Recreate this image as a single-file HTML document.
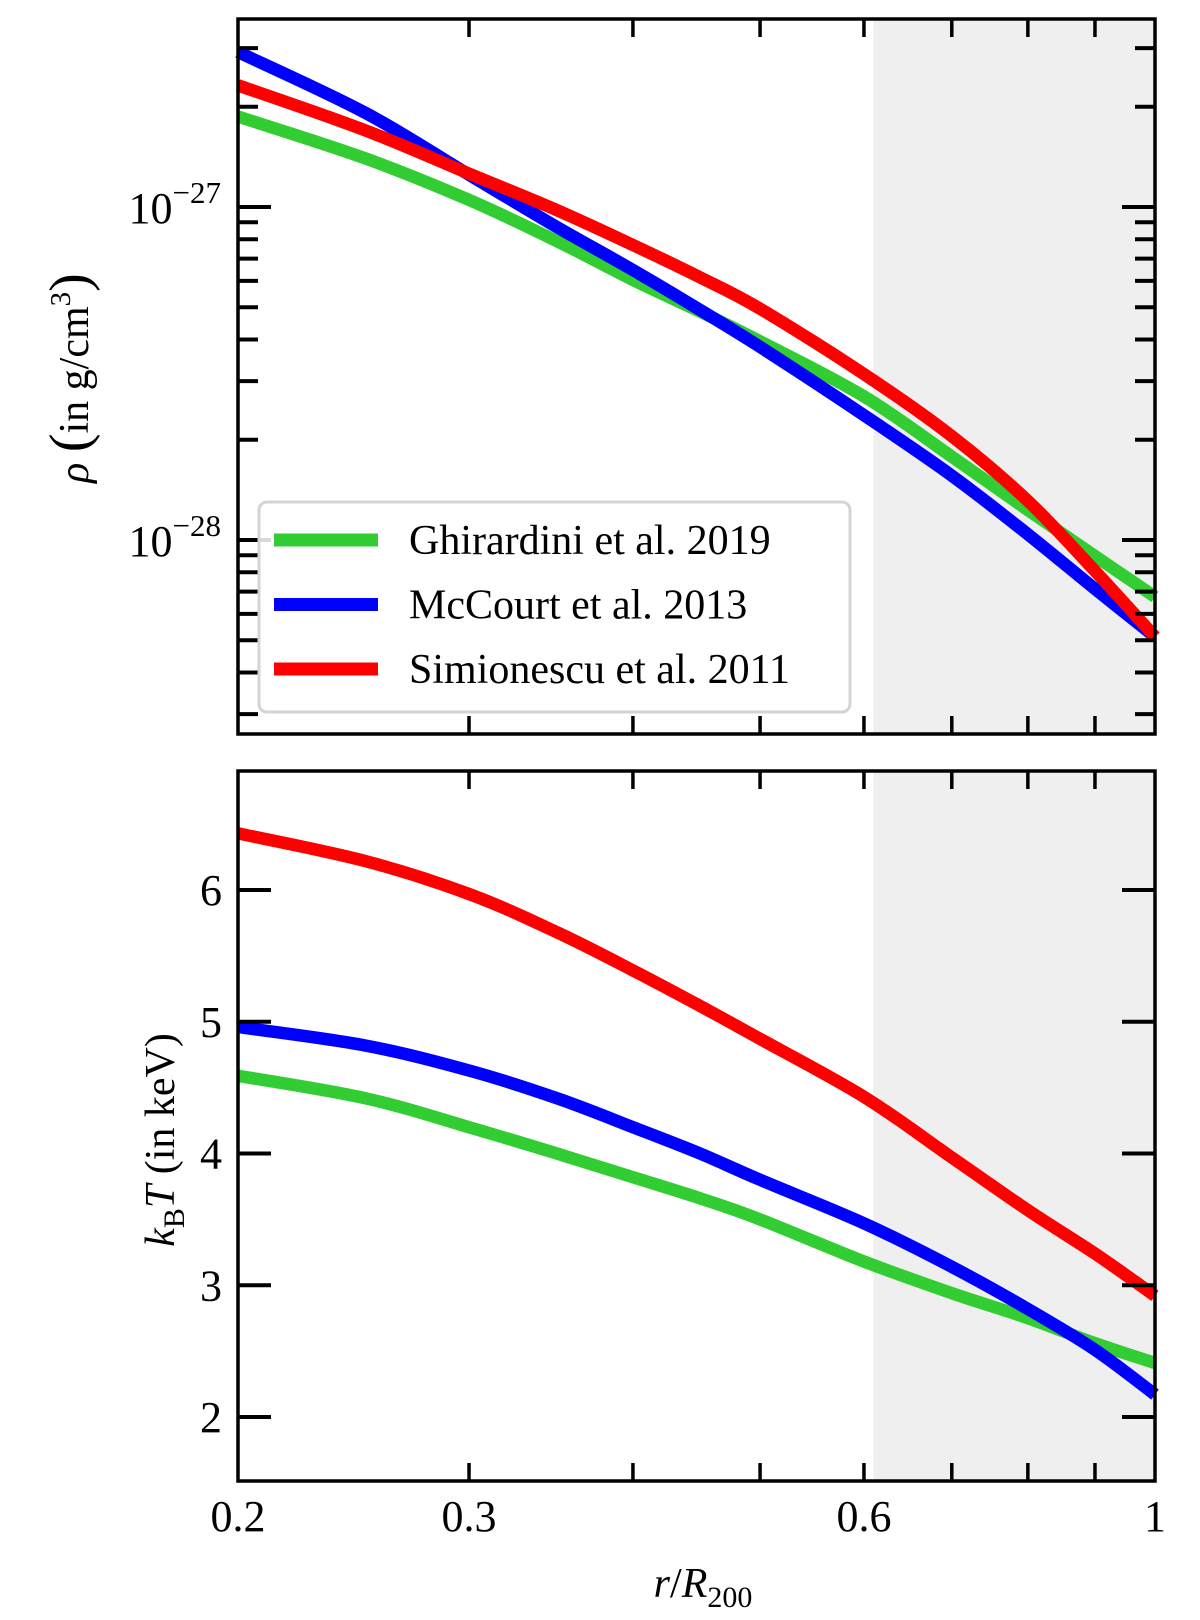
<!DOCTYPE html>
<html><head><meta charset="utf-8"><style>
html,body{margin:0;padding:0;background:#fff}
svg{display:block}
text{font-family:"Liberation Serif",serif;fill:#000}
</style></head><body>
<svg id="fig" width="1200" height="1620" viewBox="0 0 1200 1620" xmlns="http://www.w3.org/2000/svg"></svg>
<script>
const radii = [0.2,0.25,0.3,0.35,0.4,0.45,0.5,0.6,0.7,0.8,0.9,1.0];
const rhoGhirardini = [1.87e-27,1.40e-27,1.05e-27,7.90e-28,6.04e-28,4.85e-28,3.95e-28,2.70e-28,1.78e-28,1.23e-28,8.95e-29,6.75e-29];
const rhoMcCourt = [2.92e-27,1.92e-27,1.25e-27,8.71e-28,6.47e-28,4.91e-28,3.80e-28,2.37e-28,1.56e-28,1.04e-28,7.13e-29,5.12e-29];
const rhoSimionescu = [2.32e-27,1.70e-27,1.26e-27,9.79e-28,7.69e-28,6.15e-28,4.95e-28,3.15e-28,2.05e-28,1.31e-28,8.07e-29,5.12e-29];
const tGhirardini = [4.59,4.42,4.20,4.00,3.82,3.66,3.50,3.18,2.94,2.75,2.56,2.41];
const tMcCourt = [4.96,4.82,4.63,4.42,4.20,4.00,3.80,3.47,3.14,2.82,2.51,2.17];
const tSimionescu = [6.43,6.22,5.97,5.68,5.39,5.12,4.87,4.43,3.97,3.57,3.24,2.92];
const seriesNames = ["Ghirardini et al. 2019","McCourt et al. 2013","Simionescu et al. 2011"];
const xMajorTicks = [0.2,0.3,0.6,1];
const xMinorTicks = [0.4,0.5,0.7,0.8,0.9];
const tTicks = [2,3,4,5,6];
const shadeStart = 0.61;

const NS="http://www.w3.org/2000/svg";
const svg=document.getElementById('fig');
const L=238,R=1155;
const P1={top:19,bot:734}, P2={top:771,bot:1481};
function X(r){return L+(R-L)*Math.log(r/0.2)/Math.log(5);}
function Yrho(v){return 207-(Math.log10(v)+27)*333;}
function YT(t){return 890-(t-6)*131.75;}
function el(tag,attrs,parent){const e=document.createElementNS(NS,tag);for(const k in attrs)e.setAttribute(k,attrs[k]);(parent||svg).appendChild(e);return e;}
const colors=["#32cd32","#0000ff","#ff0000"];
function spline(pts){
  let d='M'+pts[0][0].toFixed(1)+' '+pts[0][1].toFixed(1);
  for(let i=0;i<pts.length-1;i++){
    const p0=pts[Math.max(0,i-1)],p1=pts[i],p2=pts[i+1],p3=pts[Math.min(pts.length-1,i+2)];
    const c1=[p1[0]+(p2[0]-p0[0])/6,p1[1]+(p2[1]-p0[1])/6];
    const c2=[p2[0]-(p3[0]-p1[0])/6,p2[1]-(p3[1]-p1[1])/6];
    d+=' C'+c1.map(v=>v.toFixed(1)).join(' ')+' '+c2.map(v=>v.toFixed(1)).join(' ')+' '+p2.map(v=>v.toFixed(1)).join(' ');
  }
  return d;
}
function panel(P,name,Yf,sets){
  const g=el('g',{});
  
  
  const sh=el('rect',{x:X(shadeStart),y:P.top,width:R-X(shadeStart),height:P.bot-P.top,fill:'#efefef'},g);
  
  
  sets.forEach((s,i)=>{
    const pts=radii.map((r,j)=>[X(r),Yf(s[j])]);
    const p=el('path',{d:spline(pts),fill:'none',stroke:colors[i],'stroke-width':12.5,'stroke-linejoin':'round'},g);
    
    
  });
  return g;
}
function frame(P,g){
  const f=el('rect',{x:L,y:P.top,width:R-L,height:P.bot-P.top,fill:'none',stroke:'#000','stroke-width':3.5},g);
  
  
  xMajorTicks.concat(xMinorTicks).forEach(r=>{
    if(r===0.2||r===1)return;
    el('line',{x1:X(r),x2:X(r),y1:P.top,y2:P.top+18,stroke:'#000','stroke-width':3.5},g);
    el('line',{x1:X(r),x2:X(r),y1:P.bot,y2:P.bot-18,stroke:'#000','stroke-width':3.5},g);
  });
}
const g1=panel(P1,'density-panel',Yrho,[rhoGhirardini,rhoMcCourt,rhoSimionescu]);
frame(P1,g1);
for(let e=-29;e<=-26;e++){
  for(let m=1;m<=9;m++){
    const v=m*Math.pow(10,e);const y=Yrho(v);
    if(y<P1.top+2||y>P1.bot-2)continue;
    const len=m===1?33:20;
    el('line',{x1:L,x2:L+len,y1:y,y2:y,stroke:'#000','stroke-width':4},g1);
    el('line',{x1:R,x2:R-len,y1:y,y2:y,stroke:'#000','stroke-width':4},g1);
    if(m===1){
      const t=el('text',{x:221,y:y+16,'font-size':44,'text-anchor':'end'},g1);
      
      
      t.innerHTML='10<tspan dy="-20" font-size="31">−'+(-e)+'</tspan>';
    }
  }
}
const yl1=el('text',{x:0,y:0,'font-size':42,'text-anchor':'middle',transform:'translate(88,378) rotate(-90)'});


yl1.innerHTML='<tspan font-style="italic">ρ</tspan> <tspan font-size="56">(</tspan>in g/cm<tspan dy="-18" font-size="29">3</tspan><tspan dy="18" font-size="56">)</tspan>';
const lg=el('g',{});


el('rect',{x:259,y:502,width:591,height:210,rx:8,fill:'rgba(255,255,255,0.85)',stroke:'#d4d4d4','stroke-width':3},lg);
seriesNames.forEach((n,i)=>{
  const y=540+i*64.5;
  const ln=el('line',{x1:274,x2:378,y1:y,y2:y,stroke:colors[i],'stroke-width':13},lg);
  
  
  const t=el('text',{x:409,y:y+14,'font-size':42},lg);
  
  
  t.textContent=n;
});
const g2=panel(P2,'temperature-panel',YT,[tGhirardini,tMcCourt,tSimionescu]);
frame(P2,g2);
tTicks.forEach(t=>{
  const y=YT(t);
  el('line',{x1:L,x2:L+33,y1:y,y2:y,stroke:'#000','stroke-width':4},g2);
  el('line',{x1:R,x2:R-33,y1:y,y2:y,stroke:'#000','stroke-width':4},g2);
  const tx=el('text',{x:222,y:y+15,'font-size':44,'text-anchor':'end'},g2);
  
  
  tx.textContent=t;
});
xMajorTicks.forEach(r=>{
  const tx=el('text',{x:X(r),y:1531,'font-size':44,'text-anchor':'middle'});
  
  
  tx.textContent=r;
});
const yl2=el('text',{x:0,y:0,'font-size':42,'text-anchor':'middle',transform:'translate(174,1140) rotate(-90)'});


yl2.innerHTML='<tspan font-style="italic">k</tspan><tspan dy="10" font-size="30">B</tspan><tspan dy="-10" font-style="italic">T</tspan> (in keV)';
const xl=el('text',{x:703,y:1597,'font-size':42,'text-anchor':'middle'});


xl.innerHTML='<tspan font-style="italic">r</tspan>/<tspan font-style="italic">R</tspan><tspan dy="10" font-size="30">200</tspan>';
</script>
</body></html>
